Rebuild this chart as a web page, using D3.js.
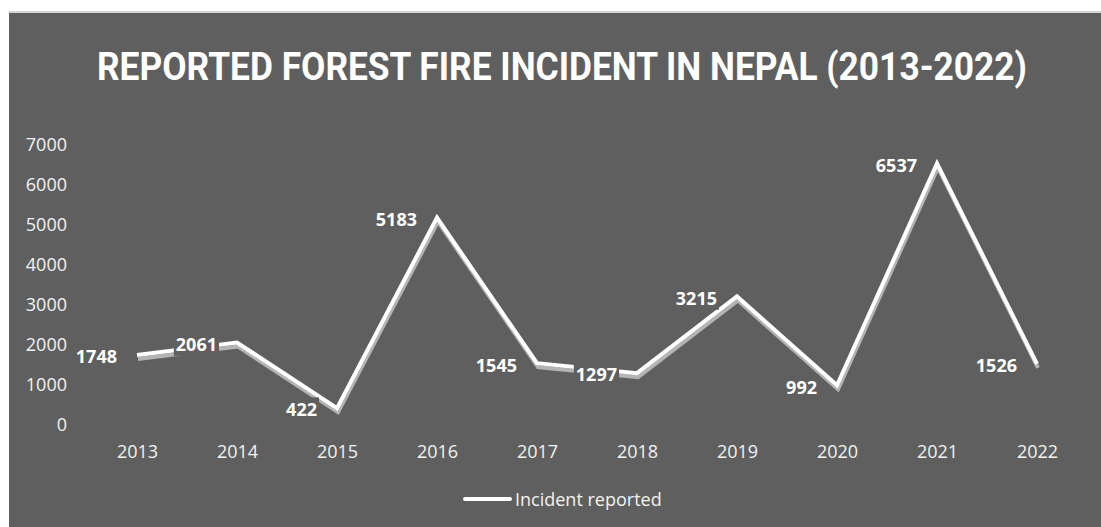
<!DOCTYPE html>
<html>
<head>
<meta charset="utf-8">
<script src="https://cdn.jsdelivr.net/npm/d3@7"></script>
<style>
  body { margin: 0; background: #fff; }
  svg { display: block; }
</style>
</head>
<body>
<script>
const width = 1101;
const height = 527;

const years = ['2013', '2014', '2015', '2016', '2017', '2018', '2019', '2020', '2021', '2022'];
const incidents = [1748, 2061, 422, 5183, 1545, 1297, 3215, 992, 6537, 1526];
const yTicks = [0, 1000, 2000, 3000, 4000, 5000, 6000, 7000];

const bg = '#5f5f5f';

const svg = d3.select('body').append('svg')
  .attr('width', width)
  .attr('height', height);

// chart area
svg.append('rect')
  .attr('x', 9).attr('y', 11)
  .attr('width', width - 9).attr('height', height - 11)
  .attr('fill', bg);
svg.append('rect')
  .attr('x', 9).attr('y', 11)
  .attr('width', width - 9).attr('height', 2)
  .attr('fill', '#d4d4d4');

svg.append('text')
  .attr('x', 562).attr('y', 80)
  .attr('text-anchor', 'middle')
  .attr('font-family', 'Roboto, sans-serif')
  .attr('font-weight', 'bold')
  .attr('font-size', 38)
  .attr('textLength', 930)
  .attr('lengthAdjust', 'spacingAndGlyphs')
  .attr('fill', '#fff')
  .text('REPORTED FOREST FIRE INCIDENT IN NEPAL (2013-2022)');

const x = d3.scalePoint()
  .domain(years)
  .range([137, 1037]);

const y = d3.scaleLinear()
  .domain([0, 7000])
  .range([425, 145]);

// y axis
const yAxis = svg.append('g')
  .attr('transform', 'translate(67,0)')
  .call(d3.axisLeft(y).tickValues(yTicks).tickFormat(d3.format('d')).tickSize(0).tickPadding(0));
yAxis.select('.domain').remove();
yAxis.selectAll('text')
  .attr('font-family', '"Open Sans", sans-serif')
  .attr('font-size', 18)
  .attr('fill', '#f2f2f2');

// x axis
const xAxis = svg.append('g')
  .attr('transform', 'translate(0,445)')
  .call(d3.axisBottom(x).tickSize(0).tickPadding(0));
xAxis.select('.domain').remove();
xAxis.selectAll('text')
  .attr('font-family', '"Open Sans", sans-serif')
  .attr('font-size', 18)
  .attr('fill', '#f2f2f2');

const line = d3.line()
  .x((d, i) => x(years[i]))
  .y(d => y(d));

// shadow
svg.append('path')
  .datum(incidents)
  .attr('d', line)
  .attr('transform', 'translate(1,4)')
  .attr('fill', 'none')
  .attr('stroke', '#b4b4b4')
  .attr('stroke-width', 4)
  .attr('stroke-linejoin', 'miter');

svg.append('path')
  .datum(incidents)
  .attr('d', line)
  .attr('fill', 'none')
  .attr('stroke', '#fff')
  .attr('stroke-width', 4)
  .attr('stroke-linejoin', 'miter');

// data labels, placed left of each point
const labels = svg.append('g').selectAll('g')
  .data(incidents)
  .join('g')
  .attr('transform', (d, i) => `translate(${x(years[i]) - 20},${y(d) + 2})`);

labels.append('text')
  .attr('text-anchor', 'end')
  .attr('dy', '0.35em')
  .attr('font-family', '"Open Sans", sans-serif')
  .attr('font-weight', 'bold')
  .attr('font-size', 18)
  .attr('fill', '#fff')
  .text(d => d)
  .each(function() {
    const b = this.getBBox();
    d3.select(this.parentNode).insert('rect', 'text')
      .attr('x', b.x - 2).attr('y', b.y)
      .attr('width', b.width + 4).attr('height', b.height)
      .attr('fill', bg);
  });

// legend
svg.append('line')
  .attr('x1', 465).attr('x2', 510)
  .attr('y1', 499).attr('y2', 499)
  .attr('stroke', '#fff')
  .attr('stroke-width', 4)
  .attr('stroke-linecap', 'round');
svg.append('text')
  .attr('x', 515).attr('y', 500)
  .attr('dy', '0.35em')
  .attr('font-family', '"Open Sans", sans-serif')
  .attr('font-size', 18)
  .attr('fill', '#f2f2f2')
  .text('Incident reported');
</script>
</body>
</html>
